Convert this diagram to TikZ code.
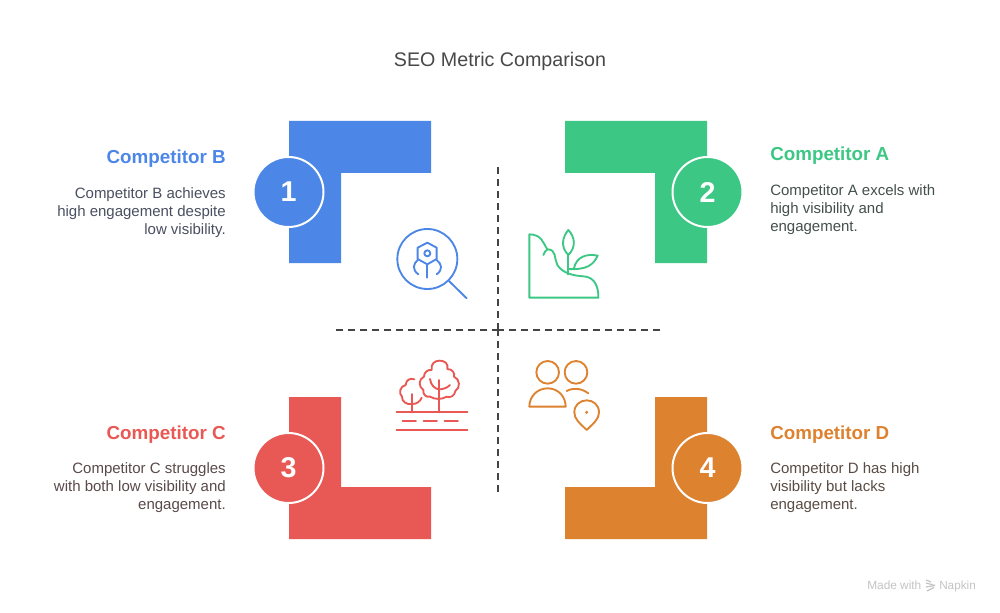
\documentclass[tikz,border=0pt]{standalone}
\usepackage{fontspec}
\setmainfont{Liberation Sans}
\definecolor{cblue}{HTML}{4C86E6}
\definecolor{cgreen}{HTML}{3DC784}
\definecolor{cred}{HTML}{E85854}
\definecolor{corange}{HTML}{DD822F}
\definecolor{ctitle}{HTML}{484848}
\definecolor{taxis}{HTML}{444444}
\definecolor{tb}{HTML}{4A5060}
\definecolor{ta}{HTML}{44504C}
\definecolor{tc}{HTML}{5A4A4A}
\definecolor{td}{HTML}{5A4C44}
\definecolor{cmark}{HTML}{C4C4C4}
\tikzset{
  badge/.style={circle,draw=white,line width=1.5pt,minimum size=52.5pt,inner sep=0pt,text=white,font=\fontsize{21.5}{24}\selectfont\bfseries},
  headR/.style={anchor=base east,inner sep=0pt,font=\fontsize{14.1}{16}\selectfont\bfseries},
  headL/.style={anchor=base west,inner sep=0pt,font=\fontsize{14.1}{16}\selectfont\bfseries},
  bodyR/.style={anchor=north east,inner sep=0pt,align=right,font=\fontsize{11.25}{13.5}\selectfont},
  bodyL/.style={anchor=north west,inner sep=0pt,align=left,font=\fontsize{11.25}{13.5}\selectfont},
  axisline/.style={draw=taxis,line width=1.5pt,dash pattern=on 5.25pt off 3.75pt},
  iconline/.style={line width=1.4pt,line cap=round,line join=round}
}
\begin{document}
\begin{tikzpicture}[x=0.75pt,y=-0.75pt]
\useasboundingbox (0,0) rectangle (1000,613);
\fill[white] (0,0) rectangle (1000,613);
% title
\node[anchor=base,inner sep=0pt,text=ctitle,font=\fontsize{14.75}{17}\selectfont] (title) at (500,67) {SEO Metric Comparison};
% corner shapes
\fill[cblue] (289,121) -- (431,121) -- (431,173) -- (341,173) -- (341,263) -- (289,263) -- cycle;
\fill[cgreen] (565,121) -- (707,121) -- (707,263) -- (655,263) -- (655,173) -- (565,173) -- cycle;
\fill[cred] (289,397) -- (341,397) -- (341,487) -- (431,487) -- (431,539) -- (289,539) -- cycle;
\fill[corange] (655,397) -- (707,397) -- (707,539) -- (565,539) -- (565,487) -- (655,487) -- cycle;
% badges
\node[badge,fill=cblue] (n1) at (288.5,192) {1};
\node[badge,fill=cgreen] (n2) at (707.5,192) {2};
\node[badge,fill=cred] (n3) at (288.5,468) {3};
\node[badge,fill=corange] (n4) at (707.5,468) {4};
% axes: each arm is dashed from its outer end to the centre
\coordinate (vtop) at (498,167);
\coordinate (vbot) at (498,492);
\coordinate (hleft) at (336,330);
\coordinate (hright) at (660,330);
\coordinate (mid) at (498,330);
\draw[axisline] (vtop) -- (mid);
\draw[axisline] (vbot) -- (mid);
\draw[axisline] (hleft) -- (mid);
\draw[axisline] (hright) -- (mid);
% labels
\node[headR,text=cblue] (hb) at (226,164) {Competitor B};
\node[bodyR,text=tb] (tbb) at (226,187) {Competitor B achieves\\high engagement despite\\low visibility.};
\node[headL,text=cgreen] (ha) at (770,161) {Competitor A};
\node[bodyL,text=ta] (tba) at (770,184) {Competitor A excels with\\high visibility and\\engagement.};
\node[headR,text=cred] (hc) at (226,439) {Competitor C};
\node[bodyR,text=tc] (tbc) at (226,462) {Competitor C struggles\\with both low visibility and\\engagement.};
\node[headL,text=corange] (hd) at (770,439) {Competitor D};
\node[bodyL,text=td] (tbd) at (770,462) {Competitor D has high\\visibility but lacks\\engagement.};
% blue icon
\begin{scope}[shift={(380,210)},x=0.25pt,y=-0.25pt,draw=cblue,iconline]
\draw (142,147) circle[radius=90];
\draw (207,213) -- (260,265);
\draw (142,98) -- (170,113) -- (170,147) -- (142,163) -- (113,147) -- (113,113) -- cycle;
\draw (142,130) circle[radius=9];
\draw (142,163) -- (142,203);
\draw (113,150) .. controls (100,162) and (95,178) .. (115,193);
\draw (170,150) .. controls (185,162) and (190,178) .. (170,193);
\end{scope}
% green icon
\begin{scope}[shift={(380,210)},x=0.25pt,y=-0.25pt,draw=cgreen,iconline]
\draw (448,73) -- (448,263) -- (655,263) .. controls (656,225) and (640,200) .. (610,199)
  .. controls (580,197) and (548,190) .. (532,165) .. controls (522,145) and (530,118) .. (502,118)
  .. controls (490,100) and (485,73) .. (448,73) -- cycle;
\draw (490,135) .. controls (494,126) and (497,120) .. (503,118);
\draw (565,193) -- (565,135);
\draw (565,135) .. controls (540,110) and (548,80) .. (565,60) .. controls (584,80) and (590,110) .. (565,135);
\draw (565,177) .. controls (620,180) and (640,165) .. (653,137) .. controls (620,130) and (590,140) .. (582,174);
\end{scope}
% red icon: road
\begin{scope}[shift={(380,340)},x=0.25pt,y=-0.25pt,draw=cred,iconline]
\draw (50,216) -- (262,216);
\draw (50,270) -- (262,270);
\draw (68,243) -- (108,243);
\draw (131,243) -- (171,243);
\draw (194,243) -- (234,243);
\end{scope}
% red icon: trees
\begin{scope}[shift={(390,355)},x=0.25pt,y=-0.25pt,draw=cred,iconline]
\draw (148,172) -- (148,75);
\draw (120,72) .. controls (122,90) and (135,103) .. (148,103);
\draw (180,90) .. controls (172,98) and (160,103) .. (148,103);
\draw (125,45) .. controls (122,25) and (135,17) .. (149,17) .. controls (163,17) and (176,25) .. (172,42)
  .. controls (188,42) and (195,55) .. (192,65) .. controls (210,72) and (212,98) .. (196,108)
  .. controls (195,122) and (180,130) .. (170,125) .. controls (155,134) and (135,134) .. (120,125)
  .. controls (108,128) and (98,118) .. (100,105) .. controls (85,95) and (85,72) .. (102,65)
  .. controls (102,52) and (113,43) .. (125,45) -- cycle;
\draw (67,172) -- (67,117);
\draw (95,128) .. controls (90,140) and (80,147) .. (67,147);
\draw (73,73) .. controls (60,68) and (48,75) .. (47,90)
  .. controls (30,93) and (25,115) .. (36,125)
  .. controls (35,140) and (50,150) .. (67,147);
\end{scope}
% orange icon
\begin{scope}[shift={(380,340)},x=0.25pt,y=-0.25pt,draw=corange,iconline]
\draw (503,97) circle[radius=34];
\draw (588,97) circle[radius=34];
\draw (448,200) -- (557,200) .. controls (557,170) and (535,145) .. (503,145) .. controls (471,145) and (448,170) .. (448,200) -- cycle;
\draw (560,153) .. controls (580,142) and (605,145) .. (625,160);
\draw (620,270) .. controls (600,250) and (583,238) .. (583,217) .. controls (583,195) and (600,181) .. (620,181)
  .. controls (640,181) and (657,195) .. (657,217) .. controls (657,238) and (640,250) .. (620,270) -- cycle;
\fill[corange] (620,217) circle[radius=5];
\end{scope}
% watermark
\node[anchor=base west,inner sep=0pt,text=cmark,font=\fontsize{8.9}{10}\selectfont] (made) at (867,589) {Made with};
\node[anchor=base west,inner sep=0pt,text=cmark,font=\fontsize{8.8}{10}\selectfont] (napkin) at (939,589) {Napkin};
\begin{scope}[draw=cmark,line width=0.9pt]
\draw (926,580) -- (931,582);
\draw (926,583) -- (935,585.5);
\draw (926,587) -- (935,585.5);
\draw (927,591) -- (934,587.5);
\end{scope}
\end{tikzpicture}
\end{document}
